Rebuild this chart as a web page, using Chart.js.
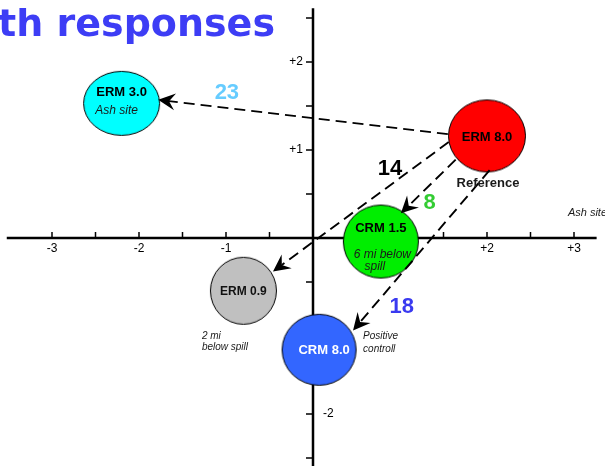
<!DOCTYPE html>
<html>
<head>
<meta charset="utf-8">
<script src="https://cdn.jsdelivr.net/npm/chart.js@4/dist/chart.umd.min.js"></script>
<style>
  html, body { margin: 0; padding: 0; background: #fff; }
  canvas { display: block; }
</style>
</head>
<body>
<canvas id="chart" width="605" height="466"></canvas>
<script>
// Sites and their ordination scores on the two axes
const sites  = ['ERM 3.0', 'ERM 8.0', 'CRM 1.5', 'ERM 0.9', 'CRM 8.0'];
const axis1  = [-2.20, 2.00, 0.78, -0.80, 0.07];
const axis2  = [ 1.53, 1.16, -0.04, -0.60, -1.27];
const siteNotes = [['Ash site'], ['Reference'], ['6 mi below', 'spill'], ['2 mi', 'below spill'], ['Positive', 'controll']];

// Shifts away from the reference site, with their sizes
const shiftValues = [23, 14, 8, 18];
const shiftFromX  = [1.55, 1.56, 1.64, 2.03];
const shiftFromY  = [1.18, 1.09, 0.89, 0.77];
const shiftToX    = [-1.78, -0.46, 1.01, 0.46];
const shiftToY    = [1.57, -0.38, 0.28, -1.05];

// Axis tick labels
const xTickValues = [-3, -2, -1, 2, 3];
const xTickLabels = ['-3', '-2', '-1', '+2', '+3'];
const yTickValues = [2, 1, -2];
const yTickLabels = ['+2', '+1', '-2'];

// ---- styling ----
const FONT = '"Liberation Sans", Arial, Helvetica, sans-serif';
const siteStyle = [
  { fill: '#00ffff', rx: 38,   ry: 32,   name: { dx: 0, dy: -11, size: 13, color: '#000' },
    note: [{ dx: -5, dy: 7, size: 12, align: 'center' }] },
  { fill: '#ff0000', rx: 38.5, ry: 36,   name: { dx: 0, dy: 1.5, size: 13, color: '#000' },
    note: [{ dx: 1, dy: 48, size: 13, align: 'center', bold: true }] },
  { fill: '#00ee00', rx: 37.5, ry: 36.5, name: { dx: 0, dy: -13, size: 13, color: '#000' },
    note: [{ dx: 1.5, dy: 13, size: 12, align: 'center' }, { dx: -6, dy: 25.5, size: 12, align: 'center' }] },
  { fill: '#c0c0c0', rx: 33,   ry: 33.5, name: { dx: 0, dy: 1, size: 12, color: '#111' },
    note: [{ dx: -41.5, dy: 45, size: 10, align: 'left' }, { dx: -41.5, dy: 56.5, size: 10, align: 'left' }] },
  { fill: '#3366ff', rx: 37,   ry: 35.5, name: { dx: 5, dy: 1, size: 13, color: '#fff' },
    note: [{ dx: 44, dy: -14, size: 10, align: 'left' }, { dx: 44, dy: -0.5, size: 10, align: 'left' }] }
];
const shiftStyle = [
  { color: '#66ccff', at: [-0.99, 1.65] },
  { color: '#000000', at: [0.885, 0.79] },
  { color: '#33cc33', at: [1.34, 0.394] },
  { color: '#3a3af0', at: [1.02, -0.784] }
];
const sideNote = { text: 'Ash site', at: [2.93, 0.284], size: 11 };
const axisExtent = { xFrom: -3.52, xTo: 3.26, yFrom: 2.61, yTo: -2.7 };

// Ellipse sprites used as the point style for each site
function ellipseSprite(rx, ry, fill) {
  const c = document.createElement('canvas');
  c.width = Math.ceil(rx * 2 + 3);
  c.height = Math.ceil(ry * 2 + 3);
  const g = c.getContext('2d');
  g.beginPath();
  g.ellipse(c.width / 2, c.height / 2, rx, ry, 0, 0, Math.PI * 2);
  g.fillStyle = fill;
  g.fill();
  g.lineWidth = 1;
  g.strokeStyle = '#000';
  g.stroke();
  return c;
}
const sprites = siteStyle.map(s => ellipseSprite(s.rx, s.ry, s.fill));

// Cross-shaped axes through the origin, drawn under the sites
const crossAxes = {
  id: 'crossAxes',
  beforeDatasetsDraw(chart) {
    const { ctx, scales: { x, y } } = chart;
    const x0 = x.getPixelForValue(0), y0 = y.getPixelForValue(0);
    ctx.save();
    ctx.strokeStyle = '#000';
    ctx.lineWidth = 2.5;
    ctx.beginPath();
    ctx.moveTo(x.getPixelForValue(axisExtent.xFrom), y0);
    ctx.lineTo(x.getPixelForValue(axisExtent.xTo), y0);
    ctx.moveTo(x0, y.getPixelForValue(axisExtent.yFrom));
    ctx.lineTo(x0, y.getPixelForValue(axisExtent.yTo));
    ctx.stroke();
    ctx.lineWidth = 1.5;
    ctx.beginPath();
    for (let v = -3; v <= 3; v += 0.5) {
      if (v === 0) continue;
      const px = x.getPixelForValue(v);
      ctx.moveTo(px, y0); ctx.lineTo(px, y0 - 6);
    }
    for (let v = -2.5; v <= 2.5; v += 0.5) {
      if (v === 0) continue;
      const py = y.getPixelForValue(v);
      ctx.moveTo(x0, py); ctx.lineTo(x0 - 7, py);
    }
    ctx.stroke();
    ctx.fillStyle = '#000';
    ctx.font = '12px ' + FONT;
    ctx.textBaseline = 'middle';
    ctx.textAlign = 'center';
    xTickValues.forEach((v, i) => ctx.fillText(xTickLabels[i], x.getPixelForValue(v), y0 + 11));
    yTickValues.forEach((v, i) => {
      const py = y.getPixelForValue(v);
      if (v > 0) { ctx.textAlign = 'right'; ctx.fillText(yTickLabels[i], x0 - 10, py); }
      else { ctx.textAlign = 'left'; ctx.fillText(yTickLabels[i], x0 + 10, py); }
    });
    ctx.restore();
  }
};

// Dashed shift arrows, site names, notes and the title
const annotations = {
  id: 'annotations',
  afterDatasetsDraw(chart) {
    const { ctx, scales: { x, y } } = chart;
    ctx.save();
    // arrows
    shiftValues.forEach((val, i) => {
      const sx = x.getPixelForValue(shiftFromX[i]), sy = y.getPixelForValue(shiftFromY[i]);
      const tx = x.getPixelForValue(shiftToX[i]), ty = y.getPixelForValue(shiftToY[i]);
      const len = Math.hypot(tx - sx, ty - sy);
      const ux = (tx - sx) / len, uy = (ty - sy) / len;
      const nx = -uy, ny = ux;
      const L = 17, W = 8.5, notch = 11;
      ctx.strokeStyle = '#000';
      ctx.lineWidth = 1.9;
      ctx.setLineDash([11, 6]);
      ctx.beginPath();
      ctx.moveTo(sx, sy);
      ctx.lineTo(tx - ux * notch, ty - uy * notch);
      ctx.stroke();
      ctx.setLineDash([]);
      ctx.fillStyle = '#000';
      ctx.beginPath();
      ctx.moveTo(tx, ty);
      ctx.lineTo(tx - ux * L + nx * W, ty - uy * L + ny * W);
      ctx.lineTo(tx - ux * notch, ty - uy * notch);
      ctx.lineTo(tx - ux * L - nx * W, ty - uy * L - ny * W);
      ctx.closePath();
      ctx.fill();
      // size of shift
      const st = shiftStyle[i];
      ctx.fillStyle = st.color;
      ctx.font = 'bold 22px ' + FONT;
      ctx.textAlign = 'center';
      ctx.textBaseline = 'middle';
      ctx.fillText(String(val), x.getPixelForValue(st.at[0]), y.getPixelForValue(st.at[1]));
    });
    // site labels
    const meta = chart.getDatasetMeta(0);
    meta.data.forEach((pt, i) => {
      const st = siteStyle[i];
      ctx.textBaseline = 'middle';
      ctx.textAlign = 'center';
      ctx.fillStyle = st.name.color;
      ctx.font = 'bold ' + st.name.size + 'px ' + FONT;
      ctx.fillText(sites[i], pt.x + st.name.dx, pt.y + st.name.dy);
      siteNotes[i].forEach((line, j) => {
        const n = st.note[j];
        ctx.fillStyle = '#1a1a1a';
        ctx.textAlign = n.align;
        ctx.font = (n.bold ? 'bold ' : 'italic ') + n.size + 'px ' + FONT;
        ctx.fillText(line, pt.x + n.dx, pt.y + n.dy);
      });
    });
    // free note on the right
    ctx.fillStyle = '#1a1a1a';
    ctx.textAlign = 'left';
    ctx.font = 'italic ' + sideNote.size + 'px ' + FONT;
    ctx.fillText(sideNote.text, x.getPixelForValue(sideNote.at[0]), y.getPixelForValue(sideNote.at[1]));
    // title
    ctx.fillStyle = '#3d3df5';
    ctx.font = 'bold 38px "Comic Sans MS", "DejaVu Sans", sans-serif';
    ctx.textAlign = 'right';
    ctx.textBaseline = 'alphabetic';
    ctx.fillText('th responses', 275, 36);
    ctx.restore();
  }
};

new Chart(document.getElementById('chart'), {
  type: 'scatter',
  data: {
    datasets: [{
      data: sites.map((s, i) => ({ x: axis1[i], y: axis2[i] })),
      pointStyle: c => sprites[c.dataIndex],
      pointRadius: c => siteStyle[c.dataIndex].rx,
      clip: false
    }]
  },
  options: {
    responsive: false,
    animation: false,
    events: [],
    layout: { padding: 0, autoPadding: false },
    plugins: { legend: { display: false }, tooltip: { enabled: false } },
    scales: {
      x: { type: 'linear', min: -313 / 87, max: 292 / 87, display: false },
      y: { type: 'linear', min: -228 / 88, max: 238 / 88, display: false }
    }
  },
  plugins: [crossAxes, annotations]
});
</script>
</body>
</html>
